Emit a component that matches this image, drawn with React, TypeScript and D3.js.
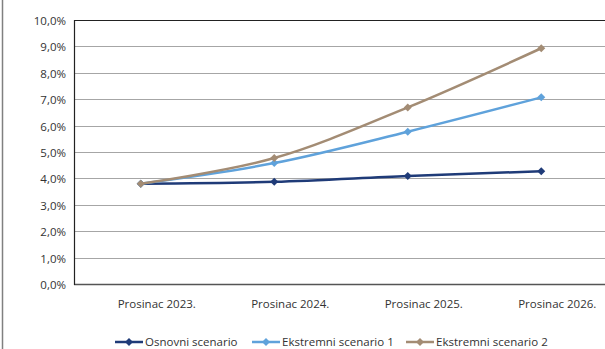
import React from "react";
import * as d3 from "d3";

const categories = ["Prosinac 2023.", "Prosinac 2024.", "Prosinac 2025.", "Prosinac 2026."];
const seriesNames = ["Osnovni scenario", "Ekstremni scenario 1", "Ekstremni scenario 2"];
const osnovni = [3.8, 3.87, 4.09, 4.27];
const ekstremni1 = [3.8, 4.58, 5.77, 7.07];
const ekstremni2 = [3.8, 4.77, 6.69, 8.93];
const yTicks = [0, 1, 2, 3, 4, 5, 6, 7, 8, 9, 10];
const colors = ["#1F3B78", "#5FA2DB", "#A38C74"];

const W = 605, H = 349;
const left = 74, right = 608, top = 20, bottom = 284;
const font = "'Open Sans', sans-serif";

export default function App() {
  const x = d3.scaleBand<string>().domain(categories).range([left, right]);
  const y = d3.scaleLinear().domain([0, 10]).range([bottom, top]);
  const cx = (c: string) => (x(c) as number) + x.bandwidth() / 2;
  const line = d3
    .line<number>()
    .x((_, i) => cx(categories[i]))
    .y((d) => y(d))
    .curve(d3.curveCardinal.tension(0));
  const data = [osnovni, ekstremni1, ekstremni2];
  const fmt = (v: number) => v.toFixed(1).replace(".", ",") + "%";
  const diamond = (px: number, py: number, r = 4) =>
    `M${px},${py - r}L${px + r},${py}L${px},${py + r}L${px - r},${py}Z`;
  const legendItems = [
    { x0: 115, tx: 145 },
    { x0: 252, tx: 282 },
    { x0: 406, tx: 436 },
  ];
  return (
    <svg width={W} height={H} style={{ position: "absolute", left: 0, top: 0, background: "#fff" }}>
      <line x1={2.5} x2={2.5} y1={0} y2={H} stroke="#808080" strokeWidth={1.5} />
      {yTicks.map((t) => (
        <g key={t}>
          {t > 0 && t < 10 && (
            <line x1={left} x2={W} y1={Math.round(y(t)) + 0.5} y2={Math.round(y(t)) + 0.5} stroke="#A6A6A6" strokeWidth={1} />
          )}
          <text x={66} y={y(t) + 5} textAnchor="end" fontFamily={font} fontSize={11.5} fill="#333">
            {fmt(t)}
          </text>
        </g>
      ))}
      <line x1={left} x2={W} y1={top + 0.5} y2={top + 0.5} stroke="#222" strokeWidth={1.2} />
      <line x1={left} x2={W} y1={bottom + 0.5} y2={bottom + 0.5} stroke="#555" strokeWidth={1.5} />
      <line x1={left + 0.5} x2={left + 0.5} y1={top} y2={bottom + 1} stroke="#222" strokeWidth={1.2} />
      {categories.map((c) => (
        <text key={c} x={cx(c) + 16} y={308} textAnchor="middle" fontFamily={font} fontSize={11.5} fill="#333">
          {c}
        </text>
      ))}
      {data.map((s, si) => (
        <g key={si}>
          <path d={line(s) as string} fill="none" stroke={colors[si]} strokeWidth={2.5} />
          {s.map((v, i) => (
            <path key={i} d={diamond(cx(categories[i]), y(v))} fill={colors[si]} />
          ))}
        </g>
      ))}
      {seriesNames.map((n, i) => (
        <g key={n}>
          <line x1={legendItems[i].x0} x2={legendItems[i].x0 + 28} y1={342} y2={342} stroke={colors[i]} strokeWidth={2.5} />
          <path d={diamond(legendItems[i].x0 + 14, 342)} fill={colors[i]} />
          <text x={legendItems[i].tx} y={346} fontFamily={font} fontSize={11.5} fill="#333">
            {n}
          </text>
        </g>
      ))}
    </svg>
  );
}
